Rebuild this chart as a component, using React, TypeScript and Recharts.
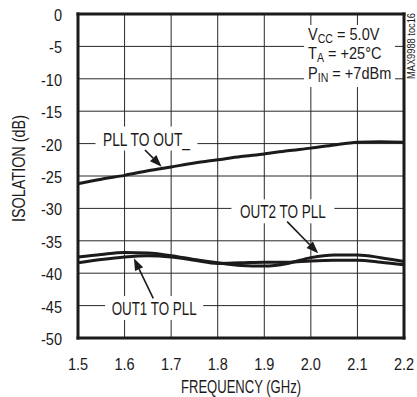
import React from "react";
import {
  LineChart,
  Line,
  XAxis,
  YAxis,
  CartesianGrid,
  ReferenceLine,
} from "recharts";

// frequency points (GHz)
const FREQ = [1.5, 1.55, 1.6, 1.65, 1.7, 1.75, 1.8, 1.85, 1.9, 1.95, 2.0, 2.05, 2.1, 2.15, 2.2];
const PLL_TO_OUT = [-26.2, -25.5, -24.9, -24.2, -23.6, -23.0, -22.5, -22.0, -21.6, -21.1, -20.7, -20.2, -19.8, -19.7, -19.8];
const OUT1_TO_PLL = [-38.4, -37.9, -37.5, -37.3, -37.5, -38.0, -38.5, -38.4, -38.3, -38.3, -38.1, -38.0, -38.0, -38.3, -38.7];
const OUT2_TO_PLL = [-37.5, -37.1, -36.8, -36.9, -37.3, -37.9, -38.4, -38.8, -38.9, -38.5, -37.6, -37.2, -37.2, -37.6, -38.2];

const X_TICKS = [1.5, 1.6, 1.7, 1.8, 1.9, 2.0, 2.1, 2.2];
const Y_TICKS = [0, -5, -10, -15, -20, -25, -30, -35, -40, -45, -50];

const INK = "#1c1a1a";
const GRID = "#2a2828";
const FONT = "'Liberation Sans', Arial, sans-serif";

const data = FREQ.map((f, i) => ({
  f,
  pll: PLL_TO_OUT[i],
  out1: OUT1_TO_PLL[i],
  out2: OUT2_TO_PLL[i],
}));

// annotation anchors / arrow ends in data units (kept stable between renders)
const at = (x: number, y: number) => [{ x, y }, { x, y }];
const PLL_LABEL_AT = at(1.647, -20.3);
const OUT1_LABEL_AT = at(1.6635, -46.45);
const OUT2_LABEL_AT = at(1.94, -31.53);
const COND_AT = at(1.994, -4.01);
const STAMP_AT = at(2.2, 0);
const PLL_ARROW = [{ x: 1.6438, y: -20.99 }, { x: 1.6796, y: -23.56 }];
const OUT1_ARROW = [{ x: 1.6616, y: -43.87 }, { x: 1.62, y: -37.7 }];
const OUT2_ARROW = [{ x: 1.9491, y: -32.05 }, { x: 2.0157, y: -36.93 }];

const YTick = ({ x, y, payload }: any) => (
  <g transform={`translate(${x},${y + 7}) scale(0.88,1)`}>
    <text textAnchor="end" fontSize={16.5} fill={INK} fontFamily={FONT}>
      {payload.value}
    </text>
  </g>
);

const XTick = ({ x, y, payload }: any) => (
  <g transform={`translate(${x},${y + 30}) scale(0.88,1)`}>
    <text textAnchor="middle" fontSize={16.5} fill={INK} fontFamily={FONT}>
      {Number(payload.value).toFixed(1)}
    </text>
  </g>
);

const XTitle = ({ viewBox }: any) => (
  <text
    x={viewBox.x + viewBox.width / 2}
    y={viewBox.y + 55}
    textAnchor="middle"
    fontSize={18}
    fill={INK}
    fontFamily={FONT}
    textLength={120}
    lengthAdjust="spacingAndGlyphs"
  >
    FREQUENCY (GHz)
  </text>
);

const YTitle = ({ viewBox }: any) => (
  <text
    transform={`translate(${viewBox.x + 17},${viewBox.y + 154.5}) rotate(-90)`}
    textAnchor="middle"
    fontSize={18}
    fill={INK}
    fontFamily={FONT}
    textLength={107}
    lengthAdjust="spacingAndGlyphs"
  >
    ISOLATION (dB)
  </text>
);

// white-backed callout label centred on the anchor of a zero-length segment
const makeCallout = (text: string, textW: number, boxW: number) => ({ x1, y1 }: any) => (
  <g>
    <rect x={x1 - boxW / 2} y={y1 - 19} width={boxW} height={24} fill="#fff" />
    <text
      x={x1}
      y={y1}
      textAnchor="middle"
      fontSize={17.5}
      fill={INK}
      fontFamily={FONT}
      textLength={textW}
      lengthAdjust="spacingAndGlyphs"
    >
      {text}
    </text>
  </g>
);

const PllLabel = makeCallout("PLL TO OUT_", 87, 102);
const Out1Label = makeCallout("OUT1 TO PLL", 85, 98);
const Out2Label = makeCallout("OUT2 TO PLL", 86, 103);

const Conditions = ({ x1, y1 }: any) => (
  <g>
    <rect x={x1 - 4} y={y1 - 15} width={91} height={62} fill="#fff" />
    <g transform={`translate(${x1},${y1}) scale(0.88,1)`} fontFamily={FONT} fill={INK} fontSize={16.5}>
      <text x={0} y={0}>
        V<tspan fontSize={12} dy={3}>CC</tspan>
        <tspan dy={-3}> = 5.0V</tspan>
      </text>
      <text x={0} y={19.5}>
        T<tspan fontSize={12} dy={3}>A</tspan>
        <tspan dy={-3}> = +25°C</tspan>
      </text>
      <text x={0} y={39}>
        P<tspan fontSize={12} dy={3}>IN</tspan>
        <tspan dy={-3}> = +7dBm</tspan>
      </text>
    </g>
  </g>
);

const Stamp = ({ x1, y1 }: any) => (
  <text
    transform={`translate(${x1 + 11},${y1 + 32}) rotate(-90)`}
    textAnchor="middle"
    fontSize={10}
    fill={INK}
    fontFamily={FONT}
    textLength={66}
    lengthAdjust="spacingAndGlyphs"
  >
    MAX9988 toc16
  </text>
);

const Arrow = (props: any) => {
  const { x1, y1, x2, y2 } = props;
  const a = Math.atan2(y2 - y1, x2 - x1);
  const bx = x2 - 12 * Math.cos(a);
  const by = y2 - 12 * Math.sin(a);
  const px = -Math.sin(a) * 4.5;
  const py = Math.cos(a) * 4.5;
  return (
    <g>
      <line x1={x1} y1={y1} x2={bx} y2={by} stroke={INK} strokeWidth={1.6} />
      <polygon points={`${x2},${y2} ${bx + px},${by + py} ${bx - px},${by - py}`} fill={INK} />
    </g>
  );
};

const EdgeLine = (props: any) => {
  const { x1, y1, x2, y2 } = props;
  return <line x1={x1} y1={y1} x2={x2} y2={y2} stroke={INK} strokeWidth={3} strokeLinecap="square" />;
};

const xTick = <XTick />;
const yTick = <YTick />;
const xTitle = <XTitle />;
const yTitle = <YTitle />;

export default function App() {
  return (
    <div style={{ position: "absolute", left: 0, top: 0, background: "#fff" }}>
      <LineChart width={417} height={397} data={data} margin={{ top: 14, right: 13, left: 8, bottom: 29 }}>
        <CartesianGrid stroke={GRID} strokeWidth={1} />
        <XAxis
          dataKey="f"
          type="number"
          domain={[1.5, 2.2]}
          ticks={X_TICKS}
          axisLine={false}
          tickLine={false}
          tickSize={0}
          height={30}
          tick={xTick}
          label={xTitle}
        />
        <YAxis
          type="number"
          domain={[-50, 0]}
          ticks={Y_TICKS}
          axisLine={false}
          tickLine={false}
          tickSize={0}
          tickMargin={16}
          width={70}
          tick={yTick}
          label={yTitle}
        />
        <Line type="monotone" dataKey="pll" stroke={INK} strokeWidth={3} dot={false} isAnimationActive={false} />
        <Line type="monotone" dataKey="out1" stroke={INK} strokeWidth={3} dot={false} isAnimationActive={false} />
        <Line type="monotone" dataKey="out2" stroke={INK} strokeWidth={3} dot={false} isAnimationActive={false} />
        <ReferenceLine segment={PLL_LABEL_AT} shape={PllLabel} />
        <ReferenceLine segment={OUT1_LABEL_AT} shape={Out1Label} />
        <ReferenceLine segment={OUT2_LABEL_AT} shape={Out2Label} />
        <ReferenceLine segment={COND_AT} shape={Conditions} />
        <ReferenceLine segment={STAMP_AT} shape={Stamp} />
        <ReferenceLine segment={PLL_ARROW} shape={Arrow} />
        <ReferenceLine segment={OUT1_ARROW} shape={Arrow} />
        <ReferenceLine segment={OUT2_ARROW} shape={Arrow} />
        <ReferenceLine y={0} shape={EdgeLine} />
        <ReferenceLine y={-50} shape={EdgeLine} />
        <ReferenceLine x={1.5} shape={EdgeLine} />
        <ReferenceLine x={2.2} shape={EdgeLine} />
      </LineChart>
    </div>
  );
}
